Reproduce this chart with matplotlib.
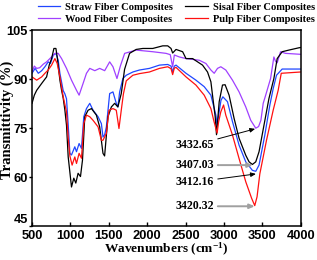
import matplotlib
matplotlib.use("Agg")
import matplotlib.pyplot as plt

# FTIR spectra
straw_x = [500, 540, 582, 626, 668, 711, 740, 776, 811, 841, 863, 906, 928, 949, 971,
           993, 1014, 1057, 1079, 1113, 1144, 1174, 1209, 1252, 1295, 1360, 1403, 1424,
           1446, 1468, 1511, 1554, 1597, 1618, 1641, 1683, 1727, 1813, 1899, 2029, 2159,
           2267, 2310, 2331, 2353, 2375, 2505, 2634, 2742, 2829, 2894, 2910, 2930, 2960,
           2985, 3045, 3110, 3196, 3283, 3369, 3413, 3456, 3531, 3596, 3640, 3683, 3757,
           4000]
straw_y = [91.8, 93.3, 91.8, 92.6, 93.8, 95.3, 94.8, 97.3, 97.9, 95.8, 91.8, 86.5, 85.5,
           84.0, 76.0, 67.3, 66.8, 69.3, 67.8, 70.3, 68.8, 78.5, 81.0, 82.6, 80.5, 78.5,
           76.4, 72.3, 73.0, 75.4, 85.6, 86.1, 82.6, 81.5, 86.1, 90.2, 91.2, 92.2, 92.8,
           93.3, 94.3, 94.5, 94.0, 92.2, 94.0, 94.3, 91.8, 89.7, 87.7, 85.1, 79.0, 75.9,
           79.0, 83.5, 84.6, 83.1, 77.0, 69.8, 64.7, 62.1, 61.8, 63.7, 72.9, 82.0, 87.1,
           91.2, 93.1, 93.1]

sisal_x = [500, 530, 561, 626, 690, 724, 755, 785, 811, 828, 863, 885, 906, 928, 949,
           971, 1014, 1044, 1070, 1100, 1131, 1157, 1187, 1230, 1274, 1338, 1381, 1424,
           1445, 1459, 1489, 1533, 1576, 1618, 1662, 1705, 1770, 1856, 1943, 2072, 2202,
           2267, 2310, 2331, 2375, 2461, 2505, 2591, 2720, 2785, 2829, 2850, 2885, 2902,
           2937, 2980, 3014, 3066, 3131, 3196, 3283, 3326, 3369, 3413, 3456, 3520, 3585,
           3649, 3692, 3757, 3844, 3974, 4000]
sisal_y = [82.6, 85.1, 86.6, 88.7, 90.7, 94.3, 96.3, 99.4, 99.4, 96.8, 89.7, 86.6, 84.2,
           80.5, 75.9, 66.2, 57.0, 59.7, 58.2, 61.2, 60.2, 65.2, 78.5, 80.5, 81.0, 79.0,
           75.4, 67.3, 66.5, 70.3, 78.5, 81.5, 82.6, 81.5, 85.6, 93.0, 97.9, 99.1, 99.4,
           99.4, 100.2, 100.2, 99.4, 98.0, 99.1, 98.4, 96.3, 96.3, 94.3, 92.2, 89.2, 85.1,
           78.5, 73.0, 83.1, 88.2, 88.3, 85.1, 78.0, 71.9, 66.7, 64.7, 63.9, 64.7, 67.8,
           75.9, 84.1, 90.2, 96.3, 98.4, 98.9, 99.6, 99.7]

wood_x = [500, 530, 561, 600, 647, 690, 733, 798, 841, 885, 949, 1014, 1079, 1113, 1165,
          1209, 1252, 1317, 1381, 1446, 1511, 1554, 1606, 1650, 1706, 1856, 2072, 2245,
          2300, 2331, 2353, 2418, 2505, 2677, 2764, 2829, 2872, 2915, 2958, 3023, 3110,
          3196, 3283, 3348, 3413, 3450, 3480, 3510, 3541, 3606, 3649, 3670, 3692, 3736,
          3800, 4000]
wood_y = [92.2, 94.0, 93.3, 93.5, 94.6, 95.3, 96.3, 97.9, 97.9, 96.3, 93.3, 89.7, 86.6,
          85.1, 88.7, 91.8, 93.3, 92.6, 93.3, 92.6, 95.3, 93.8, 90.2, 94.0, 97.9, 98.9,
          98.4, 97.9, 97.5, 93.8, 97.4, 96.8, 96.3, 95.8, 94.8, 92.8, 91.8, 93.3, 93.8,
          92.8, 89.7, 86.1, 81.5, 77.4, 75.0, 75.5, 77.4, 82.6, 85.0, 90.2, 96.8, 95.5,
          95.0, 98.4, 97.9, 97.6]

pulp_x = [500, 561, 600, 626, 668, 711, 755, 798, 828, 863, 906, 949, 971, 993, 1022,
          1057, 1079, 1113, 1144, 1174, 1209, 1252, 1295, 1360, 1403, 1424, 1468, 1502,
          1554, 1597, 1632, 1662, 1690, 1727, 1813, 1899, 2029, 2159, 2267, 2310, 2331,
          2353, 2375, 2505, 2634, 2742, 2829, 2870, 2894, 2910, 2930, 2958, 2994, 3023,
          3110, 3196, 3283, 3360, 3400, 3430, 3466, 3553, 3640, 3705, 3745, 4000]
pulp_y = [90.7, 89.7, 90.3, 90.7, 91.8, 92.8, 94.3, 96.3, 94.8, 90.7, 84.6, 80.0, 72.0,
          66.5, 63.7, 66.2, 64.2, 67.3, 65.8, 76.4, 79.0, 78.5, 77.4, 75.4, 71.3, 71.3,
          73.4, 80.5, 81.0, 80.5, 74.9, 80.5, 85.5, 89.5, 91.2, 91.7, 92.2, 93.3, 93.8,
          93.2, 91.4, 93.4, 93.6, 90.7, 88.2, 85.1, 81.0, 77.0, 74.9, 73.5, 77.0, 80.0,
          82.1, 79.0, 72.9, 65.7, 58.6, 53.5, 51.3, 54.0, 61.0, 71.3, 80.5, 86.6, 91.8,
          92.2]

# peak labels: (text, text y, arrow head x, arrow head y, arrow colour)
peak_labels = [("3432.65", 69.8, 3405, 74.8, "black"),
               ("3407.03", 63.7, 3375, 63.7, "#a0a0a0"),
               ("3412.16", 58.5, 3415, 61.0, "black"),
               ("3420.32", 51.1, 3400, 51.1, "#a0a0a0")]

SERIF = "Liberation Serif"
SANS = "Liberation Sans"

plt.rcParams["mathtext.fontset"] = "custom"
plt.rcParams["mathtext.rm"] = "Liberation Serif:bold"
plt.rcParams["mathtext.default"] = "rm"

fig = plt.figure(figsize=(3.17, 2.6), dpi=100)
ax = fig.add_axes([0.101, 0.13, 0.848, 0.754])

lw = 0.9
ax.plot(straw_x, straw_y, color="#2046ff", lw=lw, label="Straw Fiber Composites")
ax.plot(wood_x, wood_y, color="#a040ff", lw=lw, label="Wood Fiber Composites")
ax.plot(sisal_x, sisal_y, color="black", lw=lw, label="Sisal Fiber Composites")
ax.plot(pulp_x, pulp_y, color="#ff1010", lw=lw, label="Pulp Fiber Composites")

for txt, ty, hx, hy, col in peak_labels:
    ax.annotate(txt, xy=(hx, hy), xytext=(2865, ty), ha="right", va="center",
                fontsize=8.6, fontweight="bold", family=SERIF,
                arrowprops=dict(arrowstyle="-|>,head_length=0.35,head_width=0.15",
                                color=col, lw=0.7 if col == "black" else 1.4,
                                shrinkA=1, shrinkB=0))

ax.set_xlim(500, 4000)
ax.set_ylim(45, 105)
ax.set_xticks([500, 1000, 1500, 2000, 2500, 3000, 3500, 4000])
ax.set_yticks([45, 60, 75, 90, 105])
ax.tick_params(axis="x", direction="in", length=3, width=1, pad=3)
ax.tick_params(axis="y", direction="out", length=2.5, width=1, pad=0.5)
for lab in ax.get_xticklabels() + ax.get_yticklabels():
    lab.set_fontfamily(SANS)
    lab.set_fontweight("bold")
    lab.set_fontsize(9.3)
# lift the bottom y label a touch so it clears the "500" below it
ax.get_yticklabels()[0].set_verticalalignment("bottom")
for sp in ax.spines.values():
    sp.set_linewidth(1.1)

ax.set_xlabel("Wavenumbers (cm$^{-1}$)", family=SERIF, fontweight="bold",
              fontsize=9.6, labelpad=-1)
ax.set_ylabel("Transmittivity (%)", family=SERIF, fontweight="bold", fontsize=10.5)
ax.yaxis.set_label_coords(-0.066, 0.54)

fig.legend(loc="upper left", bbox_to_anchor=(0.095, 1.02), ncol=2, frameon=False,
           prop={"family": SERIF, "weight": "bold", "size": 7.6},
           handlelength=2.1, handletextpad=0.5, columnspacing=1.2,
           labelspacing=0.3, borderpad=0.2)

fig.savefig("out.png", dpi=100)
